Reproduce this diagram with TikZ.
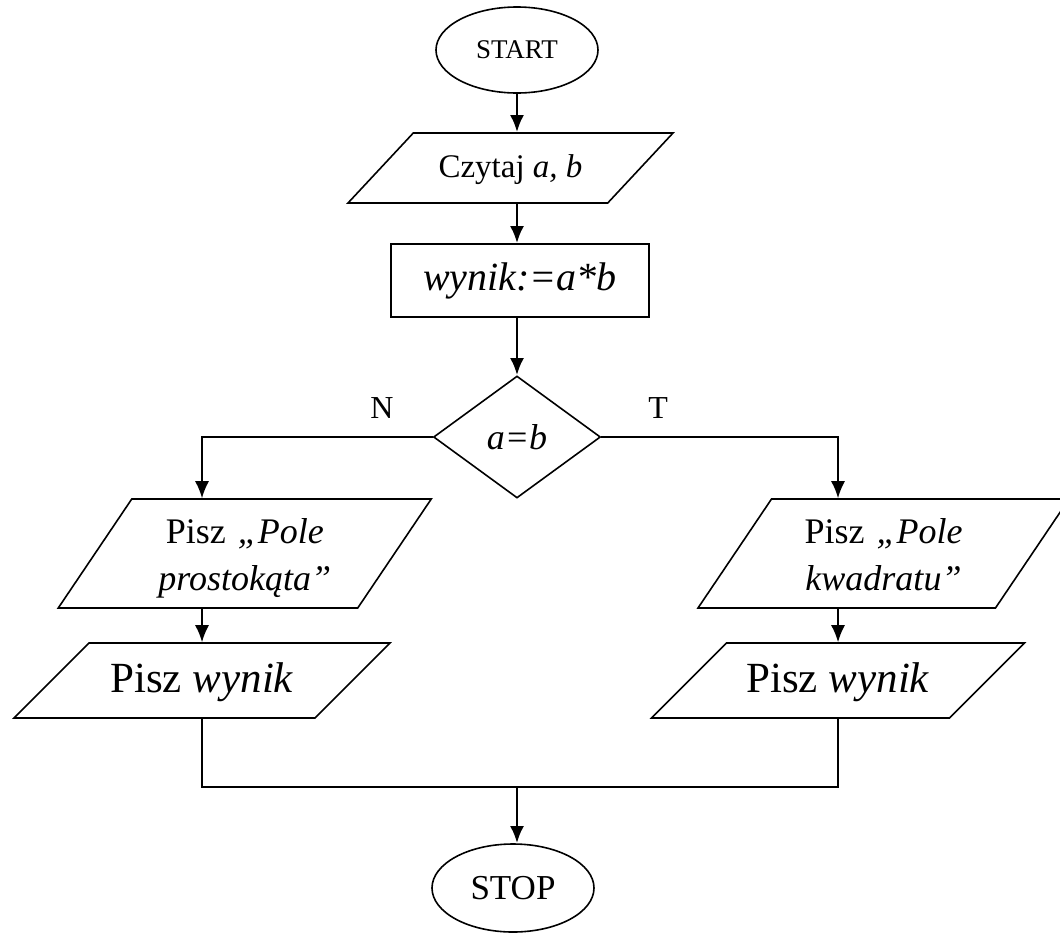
\documentclass[tikz,border=0pt]{standalone}
\usepackage{fontspec}
\setmainfont{Liberation Serif}
\usetikzlibrary{shapes.geometric,arrows.meta}

\begin{document}
\begin{tikzpicture}[x=0.5pt, y=-0.5pt, ->, >={Latex[length=8.5pt,width=7pt]}, auto, node distance=50pt]
      \tikzstyle{every node}=[inner sep=0pt, font=\fontsize{16}{19}\selectfont]
      \tikzstyle{term}=[ellipse, draw, line width=0.8pt, minimum width=81pt]
      % height of the text box = height of the parallelogram, so the angles stay as given
      \tikzstyle{io}=[trapezium, trapezium stretches body, draw, line width=0.8pt, align=center]
      \tikzstyle{calcbox}=[rectangle, draw, line width=0.8pt]
      \tikzstyle{test}=[diamond, draw, line width=0.8pt, minimum width=83.5pt, minimum height=61pt]
      \tikzstyle{main}=[line width=1.4pt]
      \tikzstyle{side}=[line width=0.8pt]
      \useasboundingbox (0,0) rectangle (1060,932);
      \node[term, minimum height=43pt, font=\fontsize{13.5}{16}\selectfont] (start) at (517,50) {START};
      \node[io, trapezium left angle=47, trapezium right angle=133, minimum width=162.5pt,
        text height=22pt, text depth=13pt, font=\fontsize{16.5}{19}\selectfont]
        (read) [below of=start, node distance=59pt, xshift=-3.25pt] {Czytaj \textit{a, b}};
      \node[calcbox, minimum width=129pt, minimum height=36.5pt, font=\fontsize{20}{24}\selectfont\itshape]
        (calc) [below of=read, node distance=56.25pt, xshift=4.75pt] {wynik:=a*b};
      \node[test, font=\fontsize{18}{21}\selectfont\itshape] (cond) [below of=calc, node distance=78.25pt, xshift=-1.5pt] {a=b};
      \node[io, trapezium left angle=56, trapezium right angle=124, minimum width=186.5pt,
        text width=90pt, text height=22pt, text depth=32.5pt, font=\fontsize{18}{23.5}\selectfont]
        (rect) [below of=cond, node distance=58.25pt, xshift=-136.125pt] {Pisz \textit{„Pole}\\\textit{prostokąta”}};
      \node[io, trapezium left angle=56, trapezium right angle=124, minimum width=185.5pt,
        text width=90pt, text height=22pt, text depth=32.5pt, font=\fontsize{18}{23.5}\selectfont]
        (square) [below of=cond, node distance=58.25pt, xshift=183.25pt] {Pisz \textit{„Pole}\\\textit{kwadratu”}};
      \node[io, trapezium left angle=45, trapezium right angle=135, minimum width=188pt,
        text height=24.5pt, text depth=13pt, font=\fontsize{21.5}{25}\selectfont]
        (outl) [below of=rect, node distance=63.5pt, xshift=-21.375pt] {Pisz \textit{wynik}};
      \node[io, trapezium left angle=45, trapezium right angle=135, minimum width=186.5pt,
        text height=24.5pt, text depth=13pt, font=\fontsize{21.5}{25}\selectfont]
        (outr) [below of=square, node distance=63.5pt, xshift=-22.75pt] {Pisz \textit{wynik}};
      \node[term, minimum height=44pt, font=\fontsize{17.5}{20}\selectfont] (stop) [below of=cond, node distance=225.5pt, xshift=-2pt] {STOP};

      \draw[main] (start) -- (start |- read.north);
      \draw[main] (start |- read.south) -- (start |- calc.north);
      \draw[main] (cond |- calc.south) -- (cond);
      \draw[side] (cond.west) -| node[pos=0.11, above=9pt] (no) {N} (rect.north -| outl);
      \draw[side] (cond.east) -| node[pos=0.12, above=9pt] (yes) {T} (square.north -| outr);
      \draw[side] (rect.south -| outl) -- (outl);
      \draw[side] (square.south -| outr) -- (outr);
      \draw[side, -] (outl.south) -- ++(0,68) coordinate (join) -| (outr.south);
      \draw[main] (cond |- join) -- (cond |- stop.north);
    \end{tikzpicture}
\end{document}
